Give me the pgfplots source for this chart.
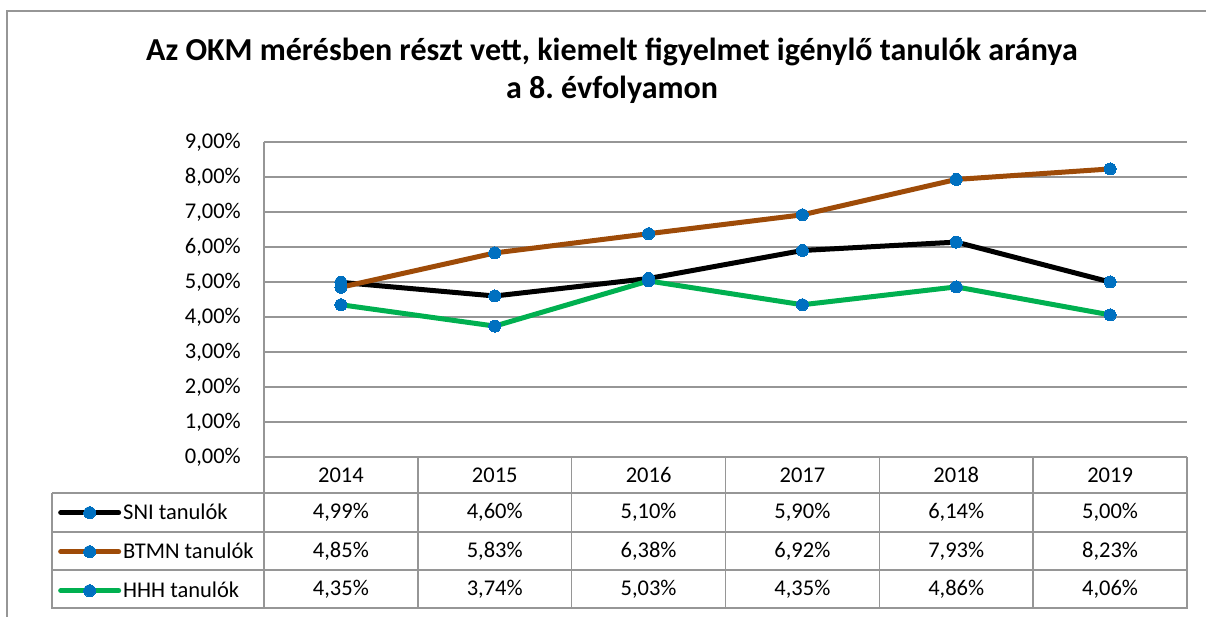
\documentclass[border=0pt]{standalone}
\usepackage{fontspec}
\setmainfont{Carlito}
\usepackage{pgfplots}
\pgfplotsset{compat=1.18}
\definecolor{brn}{RGB}{158,75,8}
\definecolor{grn}{RGB}{0,176,80}
\definecolor{mblue}{RGB}{0,112,192}
\definecolor{gridc}{RGB}{150,150,150}
\newcommand{\tfont}{\fontsize{22.5}{27}\selectfont}
\frenchspacing
\begin{document}
\begin{tikzpicture}[x=1pt,y=1pt]
\useasboundingbox (0,0) rectangle (1206,617);
\draw[gridc, line width=2pt] (7,-2) -- (7,606) -- (1208,606);
\node[font=\fontsize{32}{38}\selectfont\bfseries, anchor=base] at (612,556) {Az OKM mérésben részt vett, kiemelt figyelmet igénylő tanulók aránya};
\node[font=\fontsize{32}{38}\selectfont\bfseries, anchor=base] at (612,518) {a 8. évfolyamon};
\begin{axis}[
  at={(264pt,160pt)}, anchor=south west, scale only axis,
  width=923pt, height=315pt,
  xmin=-0.5, xmax=5.5, ymin=0, ymax=9,
  ytick={0,1,2,3,4,5,6,7,8,9},
  yticklabels={{0,00\%},{1,00\%},{2,00\%},{3,00\%},{4,00\%},{5,00\%},{6,00\%},{7,00\%},{8,00\%},{9,00\%}},
  xtick={0,1,2,3,4,5},
  xticklabels={2014,2015,2016,2017,2018,2019},
  axis lines*=left,
  axis line style={gridc, line width=1.5pt},
  ymajorgrids, grid style={gridc, line width=1.5pt},
  tick style={draw=none},
  tick label style={font=\tfont},
  yticklabel style={anchor=east, inner sep=0pt, xshift=-23pt},
  xticklabel style={anchor=center, inner sep=0pt, yshift=-18pt},
  clip=false,
  every axis plot/.append style={line width=5pt, line cap=round, line join=round, mark=*, mark size=6pt, mark options={fill=mblue, draw=mblue, line width=0pt}},
  legend cell align=left,
  legend style={at={(-0.2232,-0.1143)}, anchor=north west, draw=none, fill=none, inner sep=0pt, row sep=0pt, column sep=2pt, font=\tfont, nodes={minimum height=39pt, inner sep=0pt}},
  legend image code/.code={\draw[mark repeat=2,mark phase=2] plot coordinates {(0pt,0pt) (29pt,0pt) (58pt,0pt)};},
]
\addplot[black] coordinates {(0,4.99)(1,4.60)(2,5.10)(3,5.90)(4,6.14)(5,5.00)};
\addlegendentry{SNI tanulók}
\addplot[brn] coordinates {(0,4.85)(1,5.83)(2,6.38)(3,6.92)(4,7.93)(5,8.23)};
\addlegendentry{BTMN tanulók}
\addplot[grn] coordinates {(0,4.35)(1,3.74)(2,5.03)(3,4.35)(4,4.86)(5,4.06)};
\addlegendentry{HHH tanulók}
\end{axis}
% data table grid
\foreach \y in {124,85,47,9} \draw[gridc, line width=1.5pt] (52,\y) -- (1187,\y);
\draw[gridc, line width=1.5pt] (52,124) -- (52,8.25);
\foreach \k in {0,1,2,3,4,5,6} \draw[gridc, line width=1.5pt] (264+153.833*\k,160) -- (264+153.833*\k,8.25);
\foreach \v [count=\i from 0] in {{4,99\%},{4,60\%},{5,10\%},{5,90\%},{6,14\%},{5,00\%}}
  \node[font=\tfont] at (340.9+153.833*\i,105) {\v};
\foreach \v [count=\i from 0] in {{4,85\%},{5,83\%},{6,38\%},{6,92\%},{7,93\%},{8,23\%}}
  \node[font=\tfont] at (340.9+153.833*\i,66) {\v};
\foreach \v [count=\i from 0] in {{4,35\%},{3,74\%},{5,03\%},{4,35\%},{4,86\%},{4,06\%}}
  \node[font=\tfont] at (340.9+153.833*\i,28) {\v};
\end{tikzpicture}
\end{document}
